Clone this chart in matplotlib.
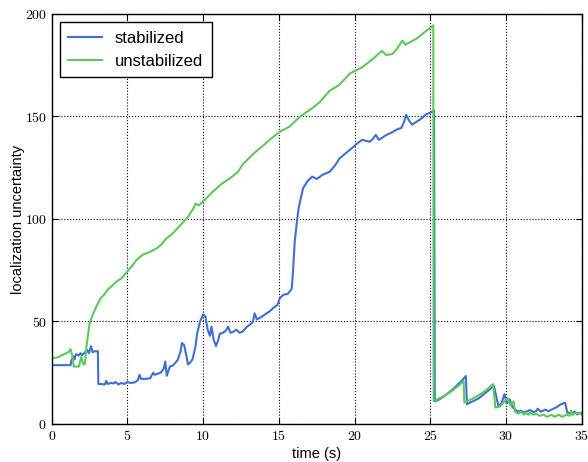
import matplotlib
matplotlib.use("Agg")
import matplotlib.pyplot as plt
from matplotlib.ticker import FuncFormatter

plt.rcParams['mathtext.fontset'] = 'cm'
plt.rcParams['font.family'] = ['Liberation Sans', 'DejaVu Sans']

# stabilized (blue)
t_stab = [0, 1.25, 1.3, 1.45, 1.5, 1.6, 1.8, 1.9, 2.0, 2.2, 2.35, 2.45, 2.6, 2.7, 2.85, 3.05,
          3.08, 3.3, 3.5, 3.6, 3.7, 3.9, 4.1, 4.2, 4.4, 4.6, 4.8, 5.0, 5.2, 5.5, 5.7, 5.8, 5.9,
          6.2, 6.5, 6.7, 6.8, 7.0, 7.2, 7.4, 7.5, 7.6, 7.8, 8.0, 8.3, 8.5, 8.6, 8.75, 8.9, 9.0,
          9.15, 9.3, 9.5, 9.6, 9.8, 10.0, 10.15, 10.3, 10.45, 10.55, 10.7, 10.85, 11.0, 11.1,
          11.3, 11.5, 11.65, 11.8, 12.0, 12.2, 12.4, 12.6, 12.9, 13.1, 13.3, 13.4, 13.55, 13.8,
          14.1, 14.4, 14.7, 14.9, 15.07, 15.3, 15.6, 15.85, 15.95, 16.05, 16.2, 16.3, 16.4,
          16.6, 16.9, 17.2, 17.5, 17.9, 18.35, 18.7, 19.0, 19.4, 19.9, 20.2, 20.5, 21.0, 21.2,
          21.4, 21.6, 21.8, 22.1, 22.4, 22.75, 23.1, 23.3, 23.4, 23.6, 23.8, 24.0, 24.3, 24.5,
          24.7, 25.05, 25.25, 25.3, 25.6, 26.0, 26.5, 27.0, 27.35, 27.42, 27.8, 28.2, 28.7,
          29.2, 29.5, 29.7, 29.9, 30.05, 30.25, 30.4, 30.6, 30.8, 31.0, 31.2, 31.3, 31.6, 31.8,
          32.0, 32.1, 32.3, 32.6, 32.8, 33.0, 33.3, 33.6, 33.9, 34.05, 34.3, 34.4, 34.5, 34.8,
          35.0]
y_stab = [28.7, 28.7, 31, 33, 31.5, 34, 33.5, 34.5, 33.5, 35, 36, 34.5, 38, 35, 35.5, 35.5,
          19.5, 19.5, 19.2, 21, 19.5, 20, 19.8, 20.5, 19.3, 20, 19.5, 20.5, 20, 20.3, 21.5, 24, 22,
          22, 22.3, 25, 24, 24.5, 25, 27, 30.5, 23.5, 28, 28.5, 31, 35, 39.5, 38.5, 33, 29,
          30, 31.5, 38, 44, 50, 53.5, 52.5, 46, 43, 47.5, 41, 38, 41, 44,
          44.5, 45.5, 47.5, 44.5, 45, 46, 44.5, 45, 47.5, 48.5, 50, 54, 51, 52,
          53.5, 55, 57, 58, 61.4, 63, 63.5, 66, 76, 89, 99, 105, 108.5,
          115, 118.5, 120.7, 119.5, 121.6, 123, 126, 129.5, 132, 135, 137, 138.6, 137.7, 139,
          141, 138.6, 139.5, 141, 142, 143.5, 144.5, 148, 150.8, 148, 146, 147, 148.4, 149.5,
          151, 152, 153, 11, 12, 14, 17, 20.5, 23.4, 9.7, 11, 12.5, 15.5,
          18.6, 8.8, 10, 14.6, 10, 12, 8.5, 7, 6, 6.5, 5.5, 6, 6.8, 5.8,
          6.3, 7.5, 6, 7, 6.2, 7, 8, 9.5, 10.4, 5.5, 5.5, 4.5, 6, 5,
          5.5]

# unstabilized (green)
t_unst = [0, 0.4, 0.8, 1.1, 1.25, 1.4, 1.45, 1.8, 1.95, 2.1, 2.2, 2.3, 2.5, 2.75, 3.0, 3.2,
          3.5, 3.7, 4.0, 4.3, 4.6, 5.0, 5.3, 5.6, 6.0, 6.5, 7.0, 7.3, 7.5, 8.0, 8.5, 9.0, 9.35,
          9.5, 9.7, 10.0, 10.65, 11.2, 11.8, 12.3, 12.6, 13.0, 13.5, 14.0, 14.4, 15.07, 15.7,
          16.4, 17.2, 17.7, 18.35, 19.0, 19.7, 20.5, 21.2, 21.8, 22.1, 22.5, 22.8, 23.15, 23.35,
          24.1, 24.7, 25.2, 25.22, 25.6, 26.0, 26.5, 27.0, 27.2, 27.25, 27.7, 28.2, 28.7, 29.15,
          29.3, 29.6, 29.9, 30.1, 30.3, 30.5, 30.6, 30.8, 31.0, 31.2, 31.3, 31.5, 31.6, 31.8,
          32.0, 32.2, 32.5, 32.7, 33.0, 33.2, 33.5, 33.7, 34.0, 34.2, 34.3, 34.4, 34.6, 34.7,
          34.9, 35.0]
y_unst = [32, 32.5, 34, 35, 36.5, 32, 28, 28, 32.6, 29, 29.5, 38, 49, 54, 58, 61,
          63.5, 65.5, 67.5, 69.6, 71, 74.5, 77, 80, 82.5, 84, 86, 88, 90, 93, 97, 101, 105,
          107.5, 106.6, 108.5, 113.4, 117, 120, 123, 126.5, 129.5, 133, 136, 138.7, 142.6, 145,
          150, 154, 157, 162.5, 165.5, 171, 174, 178, 182, 180, 180.5, 183, 187, 185,
          188, 191.6, 194.5, 11.2, 12.5, 14, 16.5, 19.5, 21, 10.4, 12, 14, 16.5, 19.4,
          8, 8.5, 11, 12.6, 9, 11, 6, 5, 6, 4.5, 5.5, 4.5, 5.5, 4.5,
          5, 4, 4.5, 3.5, 4.5, 3.5, 4.5, 3.5, 4.5, 4, 6.5, 4.5, 5.5, 4.5,
          5.5, 4.5]

xticks = [0, 5, 10, 15, 20, 25, 30, 35]
yticks = [0, 50, 100, 150, 200]

fig = plt.figure(figsize=(5.88, 4.62), dpi=100)
ax = fig.add_axes([0.0879, 0.0823, 0.9014, 0.8874])

ax.plot(t_stab, y_stab, color='#3f6fd4', lw=1.5, label='stabilized')
ax.plot(t_unst, y_unst, color='#5cc95a', lw=1.5, label='unstabilized')

ax.set_xlim(0, 35)
ax.set_ylim(0, 200)
ax.set_xticks(xticks)
ax.set_yticks(yticks)
fmt = FuncFormatter(lambda v, p: r'$%d$' % v)
ax.xaxis.set_major_formatter(fmt)
ax.yaxis.set_major_formatter(fmt)
ax.tick_params(direction='in', top=True, right=True, length=4, labelsize=10)
ax.grid(True, color='black', linestyle=':', linewidth=0.8)
for s in ax.spines.values():
    s.set_linewidth(1.0)

ax.set_xlabel('time (s)', fontsize=10.5, labelpad=3)
ax.set_ylabel('localization uncertainty', fontsize=10.5, labelpad=0)

leg = ax.legend(loc='upper left', fontsize=12, fancybox=False, framealpha=1,
                edgecolor='black', handlelength=2.0, borderpad=0.5)
leg.get_frame().set_linewidth(1.0)

fig.savefig('out.png', dpi=100)
